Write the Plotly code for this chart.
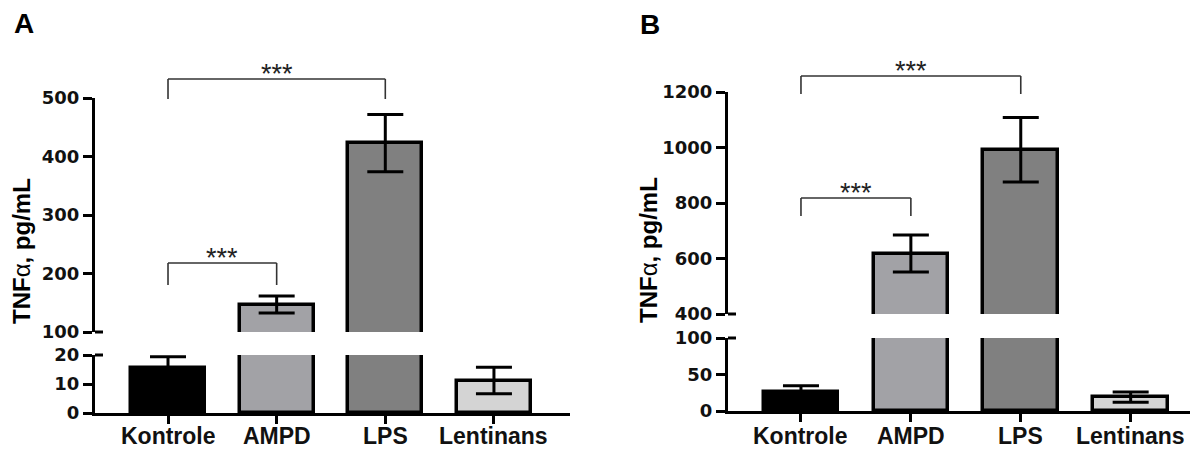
import plotly.graph_objects as go

# ---------------- data ----------------
categories = ["Kontrole", "AMPD", "LPS", "Lentinans"]

a_values = [15.6, 147, 423, 11.2]
a_errors = [3.8, 14.5, 49, 4.6]

b_values = [25.6, 618, 992, 19]
b_errors = [9, 67, 116, 7]

bar_colors = ["#000000", "#a2a2a6", "#808080", "#d4d4d4"]

a_lower_ticks = [0, 10, 20]
a_upper_ticks = [100, 200, 300, 400, 500]
b_lower_ticks = [0, 50, 100]
b_upper_ticks = [400, 600, 800, 1000, 1200]

# significance brackets: (from category index, to category index, label)
a_brackets = [(0, 2, "***"), (0, 1, "***")]
b_brackets = [(0, 2, "***"), (0, 1, "***")]

# ---------------- layout constants (pixels) ----------------
W, H = 1193, 449


def fx(px):
    return px / W


def fy(py):
    return 1 - py / H


panels = [
    dict(
        name="A", values=a_values, errors=a_errors, brackets=a_brackets,
        xaxis="x", ylow="y", yup="y2",
        x_px=(95, 570), xrange=[-0.672, 3.70],
        low_px=(413, 355), low_range=[0, 20], low_ticks=a_lower_ticks,
        up_px=(332, 98), up_range=[100, 500], up_ticks=a_upper_ticks,
        # bracket pixel levels: (top, leg bottom)
        bracket_px=[(79, 99), (263, 285)],
        label_px=(12, 6), title_px=(22, 251), cat_y_px=436,
    ),
    dict(
        name="B", values=b_values, errors=b_errors, brackets=b_brackets,
        xaxis="x2", ylow="y3", yup="y4",
        x_px=(728, 1190), xrange=[-0.664, 3.54],
        low_px=(411, 338), low_range=[0, 100], low_ticks=b_lower_ticks,
        up_px=(314, 92), up_range=[400, 1200], up_ticks=b_upper_ticks,
        bracket_px=[(76, 94), (198, 216)],
        label_px=(638, 7), title_px=(648, 250), cat_y_px=436,
    ),
]

TICKFONT = dict(family="DejaVu Sans", size=18, color="#111111", weight="bold")
CATFONT = dict(family="Liberation Sans", size=23, color="#111111", weight="bold")

fig = go.Figure()
layout_axes = {}
shapes = []
annotations = []


def axkey(name):
    return name[0] + "axis" + name[1:]


for p in panels:
    lo_min, lo_max = p["low_range"]
    up_min, up_max = p["up_range"]
    vals, errs = p["values"], p["errors"]

    low_err = [e if v <= lo_max else None for v, e in zip(vals, errs)]
    up_err = [e if v > up_min else None for v, e in zip(vals, errs)]

    for yname, earr in ((p["ylow"], low_err), (p["yup"], up_err)):
        fig.add_trace(go.Bar(
            x=categories, y=vals, width=0.68,
            marker=dict(color=bar_colors, line=dict(color="black", width=3.5)),
            error_y=dict(type="data", array=earr, color="black", thickness=3, width=18),
            xaxis=p["xaxis"], yaxis=yname, showlegend=False, hoverinfo="skip",
        ))

    xdom = [fx(p["x_px"][0]), fx(p["x_px"][1])]
    layout_axes[axkey(p["xaxis"])] = dict(
        domain=xdom, range=p["xrange"], type="category", anchor=p["ylow"],
        showline=True, linewidth=3, linecolor="black",
        ticks="outside", ticklen=8, tickwidth=3, tickcolor="black",
        showticklabels=False, showgrid=False, zeroline=False, fixedrange=True,
        automargin=False,
    )
    # category labels
    for i, c in enumerate(categories):
        annotations.append(dict(
            text=c, xref=p["xaxis"], yref="paper", x=i, y=fy(p["cat_y_px"]),
            xanchor="center", yanchor="middle", height=22, valign="middle",
            showarrow=False, font=CATFONT,
        ))

    low_dom = [fy(p["low_px"][0]), fy(p["low_px"][1])]
    up_dom = [fy(p["up_px"][0]), fy(p["up_px"][1])]
    for yname, dom, rng, tv in ((p["ylow"], low_dom, p["low_range"], p["low_ticks"]),
                                (p["yup"], up_dom, p["up_range"], p["up_ticks"])):
        layout_axes[axkey(yname)] = dict(
            domain=dom, range=rng, anchor=p["xaxis"],
            tickmode="array", tickvals=tv, ticktext=[str(t) for t in tv],
            showline=True, linewidth=3, linecolor="black",
            ticks="outside", ticklen=9, tickwidth=3, tickcolor="black",
            tickfont=TICKFONT, showgrid=False, zeroline=False, fixedrange=True,
            automargin=False,
        )

    # break marks (ticks crossing into plot at segment boundaries)
    ax_x = xdom[0]
    for yy in (low_dom[1], up_dom[0]):
        shapes.append(dict(type="line", xref="paper", yref="paper",
                           x0=ax_x, x1=ax_x + fx(8), y0=yy, y1=yy,
                           line=dict(color="black", width=3)))

    # significance brackets
    for (i0, i1, lab), (top_px, bot_px) in zip(p["brackets"], p["bracket_px"]):
        yt, yb = fy(top_px), fy(bot_px)
        ln = dict(color="#333333", width=1.6)
        shapes.append(dict(type="line", xref=p["xaxis"], yref="paper", x0=i0, x1=i1, y0=yt, y1=yt, line=ln))
        shapes.append(dict(type="line", xref=p["xaxis"], yref="paper", x0=i0, x1=i0, y0=yt, y1=yb, line=ln))
        shapes.append(dict(type="line", xref=p["xaxis"], yref="paper", x0=i1, x1=i1, y0=yt, y1=yb, line=ln))
        annotations.append(dict(
            text=lab, xref=p["xaxis"], yref="paper", x=(i0 + i1) / 2, y=fy(top_px - 5),
            xanchor="center", yanchor="middle", showarrow=False,
            font=dict(family="Liberation Sans", size=27, color="#222222"),
        ))

    # panel letter
    annotations.append(dict(
        text="<b>%s</b>" % p["name"], xref="paper", yref="paper",
        x=fx(p["label_px"][0]), y=fy(p["label_px"][1]), xanchor="left", yanchor="top",
        showarrow=False, font=dict(family="Liberation Sans", size=28, color="black"),
    ))
    # y axis title
    annotations.append(dict(
        text="<b>TNF</b>α<b>, pg/mL</b>", xref="paper", yref="paper",
        x=fx(p["title_px"][0]), y=fy(p["title_px"][1]), xanchor="center", yanchor="middle",
        textangle=-90, showarrow=False,
        font=dict(family="Liberation Sans", size=24, color="black"),
    ))

fig.update_layout(
    template="none",
    width=W, height=H, margin=dict(l=0, r=0, t=0, b=0, pad=0, autoexpand=False),
    paper_bgcolor="white", plot_bgcolor="white",
    barmode="overlay", bargap=0,
    shapes=shapes, annotations=annotations, showlegend=False,
    **layout_axes,
)

fig.write_html(
    "out.html",
    config={"displayModeBar": False},
    post_script="document.body.style.margin='0';document.body.style.overflow='hidden';",
)
